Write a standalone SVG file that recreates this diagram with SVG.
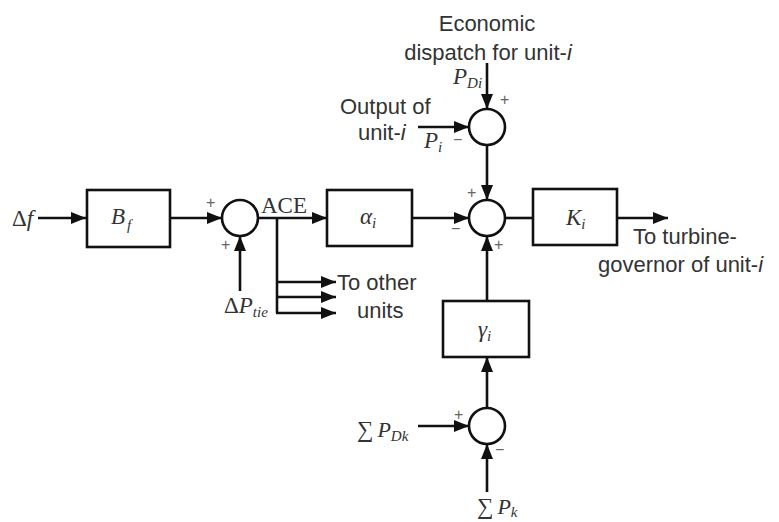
<svg xmlns="http://www.w3.org/2000/svg" width="779" height="522" viewBox="0 0 779 522">
<defs>
<marker id="ah" markerUnits="userSpaceOnUse" markerWidth="16" markerHeight="12" refX="15" refY="6" orient="auto"><path d="M0,0 L15,6 L0,12 z" fill="#111"/></marker>
<style>
.ln{stroke:#111;stroke-width:2.6;fill:none}
.ar{stroke:#111;stroke-width:2.6;fill:none;marker-end:url(#ah)}
.box{stroke:#111;stroke-width:2.6;fill:#fff}
.sum{stroke:#111;stroke-width:2.6;fill:#fff}
.lbl{font-family:"Liberation Sans",Arial,sans-serif;font-size:22px;fill:#333}
.math{font-family:"Liberation Serif","Times New Roman",serif;font-size:23px;fill:#333}
.it{font-style:italic}
.sub{font-size:15px;font-style:italic}
.sgn{font-family:"Liberation Sans",Arial,sans-serif;font-size:16px;fill:#666}
</style>
</defs>
<rect width="779" height="522" fill="#fff"/>
<g id="connectors">
<line class="ar" x1="38" y1="218" x2="86" y2="218"/>
<line class="ar" x1="170" y1="218" x2="222" y2="218"/>
<line class="ar" x1="240" y1="291" x2="240" y2="236"/>
<line class="ar" x1="258" y1="218" x2="327" y2="218"/>
<polyline class="ln" points="277,218 277,313"/>
<line class="ar" x1="276" y1="282" x2="336" y2="282"/>
<line class="ar" x1="276" y1="297" x2="336" y2="297"/>
<line class="ar" x1="276" y1="313" x2="336" y2="313"/>
<line class="ar" x1="412" y1="218" x2="469" y2="218"/>
<line class="ar" x1="487" y1="63" x2="487" y2="109"/>
<line class="ar" x1="418" y1="127" x2="469" y2="127"/>
<line class="ar" x1="487" y1="145" x2="487" y2="200"/>
<line class="ln" x1="505" y1="218" x2="533" y2="218"/>
<line class="ar" x1="617" y1="218" x2="668" y2="218"/>
<line class="ar" x1="487" y1="301" x2="487" y2="236"/>
<line class="ar" x1="487" y1="408" x2="487" y2="357"/>
<line class="ar" x1="418" y1="426" x2="469" y2="426"/>
<line class="ar" x1="487" y1="492" x2="487" y2="444"/>
</g>
<g id="in-df"><text class="math" x="12" y="226">Δ<tspan class="it">f</tspan></text></g>
<g id="Bf"><rect class="box" x="87" y="190" width="83" height="57"/><text class="math it" x="111" y="224" font-size="24">B<tspan class="sub" dy="6" dx="2">f</tspan></text></g>
<g id="sum1"><circle class="sum" cx="240" cy="218" r="18"/><text class="sgn" x="206" y="208">+</text><text class="sgn" x="221" y="250">+</text></g>
<g id="in-ptie"><text class="math" x="224" y="313">Δ<tspan class="it">P</tspan><tspan class="sub" dy="4">tie</tspan></text></g>
<g id="ace"><text class="math" x="261" y="213" font-size="22">ACE</text></g>
<g id="others"><text class="lbl" x="337" y="290">To other</text><text class="lbl" x="357" y="318">units</text></g>
<g id="alpha"><rect class="box" x="327" y="190" width="85" height="56"/><text class="math it" x="360" y="224" font-size="21">α<tspan class="sub" dy="4" font-size="12">i</tspan></text></g>
<g id="sum2"><circle class="sum" cx="487" cy="218" r="18"/><text class="sgn" x="467" y="198">+</text><text class="sgn" x="451" y="234">−</text><text class="sgn" x="494" y="250">+</text></g>
<g id="econ"><text class="lbl" x="487" y="31" text-anchor="middle">Economic</text><text class="lbl" x="488" y="60" text-anchor="middle">dispatch for unit-<tspan font-style="italic">i</tspan></text><text class="math it" x="453" y="84" font-size="22">P<tspan class="sub" dy="4" font-size="13">Di</tspan></text></g>
<g id="sum3"><circle class="sum" cx="487" cy="127" r="18"/><text class="sgn" x="500" y="105">+</text><text class="sgn" x="453" y="145">−</text></g>
<g id="output"><text class="lbl" x="340" y="114">Output of</text><text class="lbl" x="358" y="140">unit-<tspan font-style="italic">i</tspan></text><text class="math it" x="424" y="148" font-size="22">P<tspan class="sub" dy="4" font-size="12">i</tspan></text></g>
<g id="K"><rect class="box" x="533" y="189" width="84" height="56"/><text class="math it" x="566" y="225" font-size="22">K<tspan class="sub" dy="4" font-size="12">i</tspan></text></g>
<g id="turbine"><text class="lbl" x="633" y="244">To turbine-</text><text class="lbl" x="598" y="272">governor of unit-<tspan font-style="italic">i</tspan></text></g>
<g id="gamma"><rect class="box" x="443" y="301" width="86" height="56"/><text class="math it" x="478" y="337" font-size="21">γ<tspan class="sub" dy="4" font-size="12">i</tspan></text></g>
<g id="sum4"><circle class="sum" cx="487" cy="426" r="18"/><text class="sgn" x="454" y="420">+</text><text class="sgn" x="495" y="455">−</text></g>
<g id="in-pdk"><text class="math" x="357" y="437" font-size="28">∑<tspan class="it" dx="4" font-size="22">P</tspan><tspan class="sub" dy="4">Dk</tspan></text></g>
<g id="in-pk"><text class="math" x="477" y="514" font-size="28">∑<tspan class="it" dx="4" font-size="22">P</tspan><tspan class="sub" dy="3">k</tspan></text></g>
</svg>
